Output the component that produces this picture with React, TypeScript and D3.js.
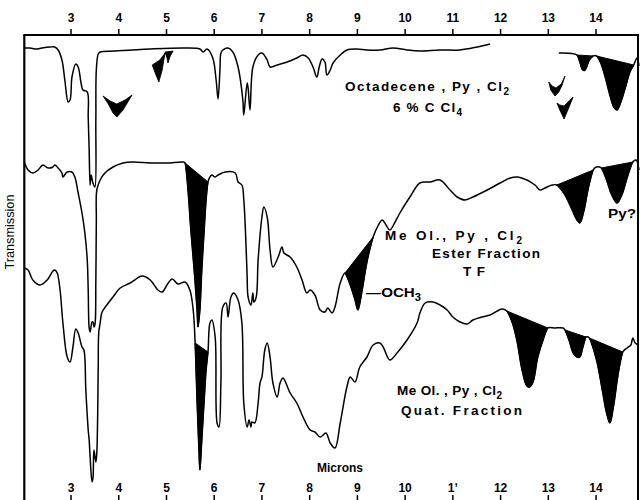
import React from "react";
import * as d3 from "d3";

type Pt = [number, number];

// x: wavelength in microns, y: transmission (arbitrary stacked units)
const MICRON_TICKS = [3, 4, 5, 6, 7, 8, 9, 10, 11, 12, 13, 14];
const TOP_TICK_LABELS = ["3", "4", "5", "6", "7", "8", "9", "10", "11", "12", "13", "14"];
const BOTTOM_TICK_LABELS = ["3", "4", "5", "6", "7", "8", "9", "10", "1\u02BC", "12", "13", "14"];

const octadecene: Pt[] = [
  [2.02, 90.4], [2.14, 90.4], [2.27, 90.2], [2.39, 90.4], [2.56, 90.6], [2.66, 90.6], [2.73, 90.0],
  [2.81, 88.0], [2.87, 84.0], [2.94, 79.6], [2.98, 80.0], [3.02, 84.6], [3.10, 87.2], [3.15, 86.6],
  [3.21, 83.4], [3.25, 82.0], [3.34, 81.6], [3.36, 76.6], [3.38, 70.0], [3.40, 63.0], [3.42, 65.0],
  [3.46, 63.4], [3.50, 62.6], [3.52, 76.0], [3.53, 86.0], [3.57, 89.2], [3.61, 89.6], [3.92, 89.8],
  [4.66, 90.2], [5.39, 90.4], [5.70, 90.2], [5.77, 89.6], [5.85, 90.2], [5.97, 88.4], [6.04, 84.0],
  [6.08, 80.2], [6.12, 86.0], [6.14, 89.4], [6.18, 90.0], [6.29, 90.4], [6.39, 89.6], [6.50, 86.6],
  [6.60, 80.0], [6.62, 77.0], [6.69, 83.4], [6.71, 82.4], [6.75, 78.0], [6.81, 86.6], [6.92, 89.0],
  [7.00, 89.4], [7.11, 88.0], [7.17, 86.6], [7.32, 87.0], [7.53, 87.6], [7.73, 88.4], [7.86, 89.0],
  [7.97, 88.4], [8.07, 86.6], [8.15, 84.6], [8.20, 86.6], [8.26, 88.2], [8.32, 87.6], [8.36, 85.0],
  [8.43, 86.0], [8.49, 87.4], [8.64, 89.0], [8.78, 90.0], [8.99, 90.2], [9.20, 90.0], [9.47, 90.0],
  [9.75, 90.4], [10.04, 90.0], [10.31, 89.8], [10.73, 90.0], [11.15, 90.0], [11.51, 90.6], [11.78, 91.2],
];

const octadeceneLong: Pt[] = [
  [13.22, 89.4], [13.60, 89.0], [13.66, 87.6], [13.72, 86.0], [13.77, 86.0], [13.86, 88.0],
  [13.94, 88.8], [14.01, 88.8], [14.09, 87.6], [14.18, 85.0], [14.29, 81.0], [14.37, 78.6],
  [14.44, 78.0], [14.52, 79.6], [14.63, 83.0], [14.71, 85.6], [14.79, 87.0], [14.86, 88.4],
  [14.90, 86.8],
];
const octadeceneBands: Pt[] = [[13.60, 13.94], [14.01, 14.79]];

const esterFraction: Pt[] = [
  [2.02, 67.6], [2.10, 66.0], [2.20, 65.4], [2.31, 66.0], [2.41, 67.0], [2.52, 66.4], [2.62, 66.6],
  [2.66, 67.0], [2.73, 66.4], [2.81, 65.4], [2.83, 64.6], [2.92, 65.6], [3.02, 65.6], [3.08, 64.6],
  [3.15, 61.4], [3.23, 57.4], [3.29, 53.4], [3.34, 48.0], [3.36, 42.0], [3.38, 34.4], [3.40, 33.6],
  [3.44, 35.6], [3.46, 35.6], [3.48, 34.6], [3.50, 35.0], [3.52, 44.0], [3.53, 56.0], [3.54, 62.0],
  [3.61, 64.0], [3.71, 65.4], [3.88, 66.6], [4.09, 67.4], [4.30, 67.6], [4.66, 67.4], [5.01, 67.4],
  [5.35, 67.6], [5.39, 67.4], [5.45, 62.0], [5.51, 54.0], [5.58, 46.0], [5.64, 38.0], [5.66, 34.6],
  [5.70, 38.0], [5.74, 46.0], [5.79, 54.0], [5.83, 60.0], [5.87, 63.6], [5.91, 64.6], [5.95, 65.0],
  [6.02, 64.6], [6.08, 65.0], [6.23, 65.6], [6.44, 65.4], [6.50, 63.6], [6.58, 63.0], [6.62, 60.0],
  [6.67, 50.0], [6.69, 44.6], [6.71, 40.6], [6.77, 39.0], [6.81, 41.4], [6.83, 39.6], [6.88, 40.6],
  [6.92, 48.0], [7.00, 56.6], [7.04, 58.6], [7.11, 56.6], [7.17, 50.0], [7.23, 46.6], [7.34, 48.6],
  [7.42, 50.6], [7.46, 49.4], [7.59, 48.6], [7.73, 46.6], [7.84, 44.0], [7.94, 41.4], [8.01, 42.0],
  [8.11, 41.0], [8.22, 38.0], [8.32, 37.6], [8.38, 38.4], [8.47, 37.4], [8.53, 38.6], [8.64, 43.4],
  [8.74, 45.4], [8.85, 43.0], [8.95, 40.0], [9.01, 38.0], [9.10, 42.0], [9.20, 47.6], [9.33, 52.6],
  [9.43, 54.8], [9.52, 56.0], [9.60, 55.0], [9.68, 54.0], [9.79, 55.6], [9.89, 57.4], [10.10, 60.6],
  [10.31, 63.4], [10.52, 63.6], [10.73, 64.0], [10.94, 62.0], [11.09, 60.6], [11.25, 60.0],
  [11.42, 60.6], [11.72, 62.0], [11.99, 63.4], [12.20, 64.4], [12.36, 64.6], [12.55, 64.0],
  [12.72, 63.0], [12.83, 62.0], [12.93, 62.4], [13.08, 63.0], [13.18, 63.0], [13.35, 61.0],
  [13.50, 58.0], [13.60, 56.0], [13.66, 55.4], [13.75, 58.0], [13.83, 62.0], [13.94, 66.0],
  [14.01, 66.6], [14.11, 66.4], [14.22, 64.0], [14.33, 61.0], [14.44, 59.4], [14.54, 61.0],
  [14.65, 64.4], [14.77, 67.6], [14.84, 68.0], [14.90, 66.0],
];
const esterBands: Pt[] = [[5.39, 5.87], [8.74, 9.33], [13.18, 13.94], [14.11, 14.77]];

const quatFraction: Pt[] = [
  [2.02, 46.4], [2.10, 46.0], [2.20, 44.0], [2.35, 43.0], [2.50, 44.0], [2.62, 45.8], [2.66, 46.0],
  [2.71, 45.4], [2.77, 42.0], [2.83, 35.4], [2.92, 28.6], [2.98, 27.6], [3.04, 30.6], [3.10, 34.2],
  [3.15, 33.4], [3.23, 30.6], [3.27, 30.0], [3.31, 22.0], [3.36, 14.0], [3.38, 12.0], [3.40, 8.6],
  [3.44, 3.6], [3.46, 4.4], [3.48, 10.0], [3.52, 7.6], [3.54, 9.4], [3.57, 26.6], [3.58, 33.4],
  [3.61, 35.4], [3.65, 37.6], [3.75, 39.0], [3.88, 40.6], [4.03, 42.4], [4.24, 43.4], [4.49, 44.8],
  [4.66, 44.0], [4.82, 42.0], [4.91, 41.6], [5.01, 43.0], [5.12, 44.2], [5.24, 43.2], [5.39, 43.6],
  [5.49, 42.0], [5.56, 38.0], [5.60, 31.4], [5.64, 20.0], [5.68, 10.0], [5.70, 6.0], [5.74, 12.0],
  [5.79, 20.0], [5.83, 26.0], [5.87, 29.6], [5.91, 35.4], [5.95, 36.0], [6.02, 32.6], [6.06, 15.4],
  [6.10, 14.6], [6.14, 23.4], [6.18, 38.6], [6.25, 39.4], [6.29, 36.6], [6.35, 40.6], [6.41, 41.4],
  [6.50, 40.0], [6.58, 35.4], [6.62, 19.4], [6.69, 14.6], [6.73, 16.0], [6.77, 14.6], [6.79, 15.6],
  [6.85, 15.4], [6.92, 19.4], [6.96, 23.4], [7.00, 24.6], [7.06, 30.0], [7.11, 31.4], [7.17, 28.6],
  [7.23, 23.4], [7.32, 20.6], [7.38, 23.4], [7.44, 24.4], [7.59, 21.4], [7.73, 19.4], [7.86, 16.6],
  [8.01, 14.0], [8.11, 13.6], [8.22, 12.6], [8.34, 13.4], [8.43, 11.4], [8.53, 10.4], [8.64, 15.4],
  [8.78, 22.6], [8.85, 24.6], [8.95, 23.6], [9.05, 26.6], [9.20, 28.6], [9.33, 31.0], [9.47, 31.4],
  [9.54, 30.6], [9.68, 28.0], [9.83, 29.4], [10.04, 32.0], [10.25, 35.4], [10.31, 37.4],
  [10.42, 39.4], [10.58, 39.6], [10.73, 39.0], [10.88, 38.0], [11.00, 36.6], [11.15, 35.6],
  [11.30, 35.2], [11.42, 36.0], [11.61, 36.6], [11.78, 37.0], [11.93, 37.8], [12.03, 38.2],
  [12.13, 37.8], [12.24, 35.6], [12.34, 32.0], [12.45, 26.0], [12.55, 22.8], [12.61, 22.6],
  [12.68, 23.6], [12.78, 28.6], [12.89, 32.0], [12.99, 34.4], [13.14, 34.4], [13.31, 34.4],
  [13.35, 34.0], [13.44, 31.8], [13.52, 29.4], [13.60, 28.6], [13.66, 28.6], [13.72, 30.4],
  [13.79, 32.6], [13.86, 32.4], [14.01, 28.0], [14.13, 22.0], [14.22, 17.4], [14.29, 15.4],
  [14.37, 19.0], [14.46, 25.0], [14.56, 29.6], [14.65, 30.4], [14.73, 31.0], [14.77, 32.4],
  [14.82, 31.4], [14.90, 31.0],
];
const quatBands: Pt[] = [[5.60, 5.87], [12.13, 12.99], [13.35, 13.79], [13.86, 14.56]];

// isolated solid difference marks drawn on the octadecene trace
const markNear4: Pt[] = [
  [3.67, 80.8], [3.78, 79.2], [3.88, 77.4], [3.96, 76.6], [4.09, 78.0], [4.19, 79.6], [4.28, 81.0],
  [4.13, 80.0], [3.96, 79.2], [3.82, 79.8],
];
const markNear48: Pt[] = [[4.70, 87.0], [4.78, 85.0], [4.84, 83.6], [4.91, 86.0], [4.97, 89.4], [4.86, 88.0]];
const markNear51: Pt[] = [[4.97, 89.6], [5.14, 89.8], [5.08, 88.8], [5.03, 87.4], [5.01, 88.4]];
const markNear131: Pt[] = [
  [13.01, 83.6], [13.05, 82.0], [13.14, 80.8], [13.22, 81.6], [13.29, 83.0], [13.35, 84.8],
  [13.27, 83.2], [13.16, 82.4], [13.08, 82.8],
];
const markNear133: Pt[] = [
  [13.18, 79.4], [13.24, 78.0], [13.33, 76.2], [13.41, 78.0], [13.52, 80.6], [13.43, 79.8],
  [13.33, 78.8], [13.24, 79.0],
];
const floatingMarks: Pt[][] = [markNear4, markNear48, markNear51, markNear131, markNear133];

const W = 643;
const H = 500;
const FONT = "'Liberation Sans', Arial, sans-serif";

export default function App() {
  const x = d3.scaleLinear().domain([2.0, 14.9]).range([23.3, 639]);
  const y = d3.scaleLinear().domain([0, 93]).range([500, 35]);

  const line = d3
    .line<Pt>()
    .x((d) => x(d[0]))
    .y((d) => y(d[1]))
    .curve(d3.curveCatmullRom.alpha(0.5));
  const poly = d3
    .line<Pt>()
    .x((d) => x(d[0]))
    .y((d) => y(d[1]))
    .curve(d3.curveLinearClosed);

  const bandPath = (data: Pt[], [a, b]: Pt) => {
    const seg = data.filter((d) => d[0] >= a - 1e-9 && d[0] <= b + 1e-9);
    return (line(seg) || "") + "Z";
  };

  const traces: { data: Pt[]; bands: Pt[] }[] = [
    { data: octadecene, bands: [] },
    { data: octadeceneLong, bands: octadeceneBands },
    { data: esterFraction, bands: esterBands },
    { data: quatFraction, bands: quatBands },
  ];

  const left = x(2.0);
  const right = x(14.9);
  const top = y(93);

  const labelStyle = { fontFamily: FONT, fontWeight: 700, fontSize: 13.5 } as const;
  const sub = (s: string) => (
    <tspan dy={3.5} fontSize={10}>
      {s}
    </tspan>
  );

  return (
    <svg
      width={W}
      height={H}
      style={{ position: "absolute", left: 0, top: 0, background: "#fff" }}
    >
      <rect x={0} y={0} width={W} height={H} fill="#fff" />

      {/* traces */}
      {traces.map((t, i) => (
        <g key={i}>
          {t.bands.map((b, j) => (
            <path key={j} d={bandPath(t.data, b)} fill="#000" stroke="#000" strokeWidth={1} />
          ))}
          <path d={line(t.data) || ""} fill="none" stroke="#000" strokeWidth={1.5} strokeLinejoin="round" />
        </g>
      ))}
      {floatingMarks.map((m, i) => (
        <path key={i} d={poly(m) || ""} fill="#000" stroke="#000" strokeWidth={0.8} />
      ))}

      {/* frame */}
      <line x1={left} x2={right} y1={top} y2={top} stroke="#000" strokeWidth={2.2} />
      <line x1={left + 1} x2={left + 1} y1={top} y2={H} stroke="#000" strokeWidth={2.2} />
      <line x1={right - 1} x2={right - 1} y1={top} y2={H} stroke="#000" strokeWidth={2} />

      {/* top axis */}
      {MICRON_TICKS.map((t, i) => (
        <g key={"t" + t}>
          <line x1={x(t)} x2={x(t)} y1={top - 6} y2={top} stroke="#000" strokeWidth={1.5} />
          <text x={x(t)} y={22} textAnchor="middle" style={{ ...labelStyle, fontSize: 12 }}>
            {TOP_TICK_LABELS[i]}
          </text>
        </g>
      ))}
      {/* bottom axis */}
      {MICRON_TICKS.map((t, i) => (
        <g key={"b" + t}>
          <line x1={x(t)} x2={x(t)} y1={495} y2={500} stroke="#000" strokeWidth={1.5} />
          <text x={x(t)} y={492} textAnchor="middle" style={{ ...labelStyle, fontSize: 12 }}>
            {BOTTOM_TICK_LABELS[i]}
          </text>
        </g>
      ))}
      <text x={340} y={472} textAnchor="middle" style={{ ...labelStyle, fontSize: 13 }} textLength={46} lengthAdjust="spacingAndGlyphs">
        Microns
      </text>
      <text
        transform="translate(14,232) rotate(-90)"
        textAnchor="middle"
        style={{ ...labelStyle, fontWeight: 400, fontSize: 13 }}
        textLength={75}
        lengthAdjust="spacingAndGlyphs"
      >
        Transmission
      </text>

      {/* annotations */}
      <text x={345} y={91} style={labelStyle} textLength={164} lengthAdjust="spacing">
        Octadecene , Py , Cl{sub("2")}
      </text>
      <text x={393} y={112} style={labelStyle} textLength={69} lengthAdjust="spacing">
        6 % C Cl{sub("4")}
      </text>

      <text x={385} y={240} style={labelStyle} textLength={137} lengthAdjust="spacing">
        Me Ol., Py , Cl{sub("2")}
      </text>
      <text x={432} y={258} style={labelStyle} textLength={108} lengthAdjust="spacing">
        Ester Fraction
      </text>
      <text x={463} y={276} style={labelStyle} textLength={22} lengthAdjust="spacing">
        TF
      </text>
      <text x={366} y={297} style={labelStyle} textLength={55} lengthAdjust="spacingAndGlyphs">
        {"\u2014OCH"}
        {sub("3")}
      </text>
      <text x={608} y={218} style={labelStyle} textLength={28} lengthAdjust="spacingAndGlyphs">
        Py?
      </text>

      <text x={397} y={395} style={labelStyle} textLength={105} lengthAdjust="spacing">
        Me Ol. , Py , Cl{sub("2")}
      </text>
      <text x={401} y={415} style={labelStyle} textLength={121} lengthAdjust="spacing">
        Quat. Fraction
      </text>
    </svg>
  );
}
